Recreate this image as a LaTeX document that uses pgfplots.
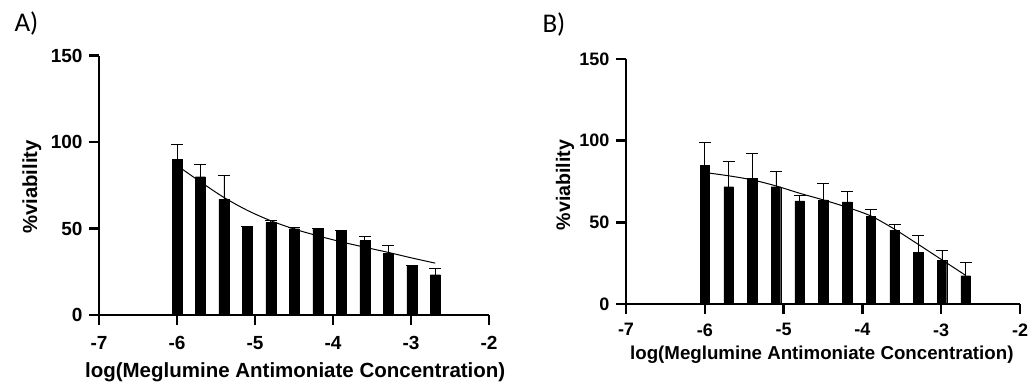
\documentclass[border=0pt]{standalone}
\usepackage{pgfplots}
\usepackage{pgfplotstable}
\pgfplotsset{compat=1.18}
\usepackage{fontspec}
\setmainfont{Liberation Sans}
\newfontfamily\calib{Carlito}
\newcommand\tlA{\fontsize{19}{19}\selectfont\bfseries}
\newcommand\tlB{\fontsize{18}{18}\selectfont\bfseries}

\pgfplotstableread{
x y e
-6.000 90.0 8.5
-5.699 80.0 7.0
-5.398 67.0 14.0
-5.097 51.1 0
-4.796 53.4 1.2
-4.495 49.9 0.5
-4.194 50.3 0
-3.893 49.0 0
-3.592 43.0 2.5
-3.291 35.7 4.5
-2.990 28.7 0
-2.689 23.3 3.8
}\dataA

\pgfplotstableread{
x y e
-6.000 85.0 14.2
-5.699 71.8 15.3
-5.398 77.0 15.3
-5.097 71.8 9.2
-4.796 63.1 3.6
-4.495 63.7 10.2
-4.194 62.6 6.4
-3.893 53.8 4.0
-3.592 45.3 3.2
-3.291 31.6 10.1
-2.990 26.9 5.8
-2.689 17.3 8.0
}\dataB

\pgfplotsset{
  myax/.style={
    scale only axis,
    xmin=-7, xmax=-2, ymin=0, ymax=150,
    axis lines=left,
    axis line style={-, line width=2.4pt, black},
    xtick={-7,-6,-5,-4,-3,-2},
    ytick={0,50,100,150},
    tick align=outside,
    major tick length=10pt,
    tick style={line width=2.4pt, black},
    /pgf/number format/assume math mode=true,
    clip=false,
  },
  barstyle/.style={ybar, bar width=#1, fill=black, draw=black,
    error bars/.cd, y dir=plus, y explicit,
    error bar style={line width=0.9pt, black},
    error mark options={rotate=90, black, mark size=6pt, line width=0.9pt}},
}

\begin{document}
\begin{tikzpicture}
\useasboundingbox (0,0) rectangle (1033pt,385pt);

\node[anchor=base west, font=\calib\fontsize{27}{27}\selectfont] at (11pt,353pt) {A)};
\node[anchor=base west, font=\calib\fontsize{27}{27}\selectfont] at (539pt,352pt) {B)};

\begin{axis}[myax,
  at={(99pt,70pt)}, anchor=south west,
  width=390pt, height=259.3pt,
  xticklabel style={font=\tlA, yshift=-8pt},
  yticklabel style={font=\tlA, xshift=-3pt},
  xlabel={log(Meglumine Antimoniate Concentration)},
  ylabel={\%viability},
  xlabel style={at={(axis description cs:0.503,-0.22)}, anchor=center, font=\fontsize{20.5}{20.5}\selectfont\bfseries},
  ylabel style={at={(axis description cs:-0.172,0.494)}, anchor=center, font=\fontsize{20.3}{20.3}\selectfont\bfseries},
]
\addplot[barstyle=10pt] table[x=x, y=y, y error=e] {\dataA};
\addplot[black, line width=1pt, smooth, mark=none] coordinates {
(-6.000,86.5) (-5.699,77) (-5.398,68) (-5.097,60.5) (-4.796,54.5) (-4.495,49.7)
(-4.194,45.8) (-3.893,42.3) (-3.592,39.2) (-3.291,36.2) (-2.990,33.0) (-2.689,30.0)};
\end{axis}

\begin{axis}[myax,
  at={(626pt,81pt)}, anchor=south west,
  width=394pt, height=245pt,
  xticklabel style={font=\tlB, yshift=-6pt},
  yticklabel style={font=\tlB, xshift=-3pt},
  xlabel={log(Meglumine Antimoniate Concentration)},
  ylabel={\%viability},
  xlabel style={at={(axis description cs:0.497,-0.208)}, anchor=center, font=\fontsize{18.7}{18.7}\selectfont\bfseries},
  ylabel style={at={(axis description cs:-0.155,0.486)}, anchor=center, font=\fontsize{19.6}{19.6}\selectfont\bfseries},
]
\addplot[barstyle=9.5pt] table[x=x, y=y, y error=e] {\dataB};
\addplot[black, line width=1pt, smooth, mark=none] coordinates {
(-6.000,80.5) (-5.699,78.5) (-5.398,76.0) (-5.097,72.3) (-4.796,67.8) (-4.495,63.7)
(-4.194,59.2) (-3.893,53.9) (-3.592,45.8) (-3.291,36.5) (-2.990,27.0) (-2.689,17.5)};
\end{axis}
\end{tikzpicture}
\end{document}
